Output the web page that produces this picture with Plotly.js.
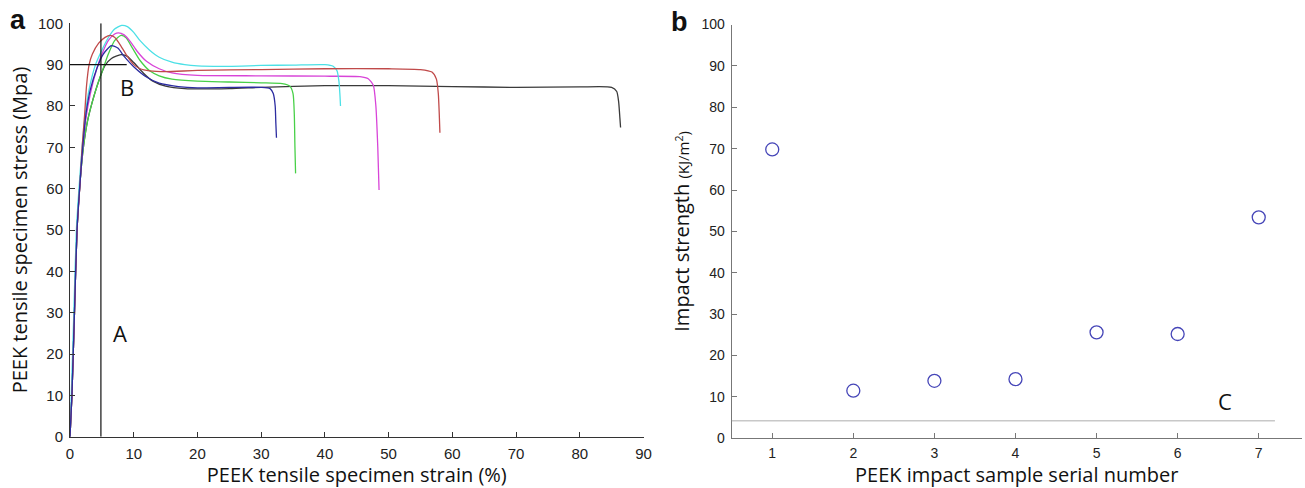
<!DOCTYPE html>
<html>
<head>
<meta charset="utf-8">
<script src="https://cdn.plot.ly/plotly-3.0.1.min.js"></script>
<style>html,body{margin:0;padding:0;background:#fff;}#chart{width:1305px;height:488px;}</style>
</head>
<body>
<div id="chart"></div>
<script>
// ---- Panel a: tensile stress-strain curves (strain %, stress MPa) ----
const blueStrain = [0,0.3,0.7,1.1,1.6,2.0,2.5,3.2,4.2,5.2,6.5,7.5,8.5,10,12,14,17,20,25,30,31.4,31.9,32.2,32.3,32.4];
const blueStress = [0,10,30,50,62,70,78,84,89,92.5,94.6,94,92,89.5,87,85.5,84.7,84.4,84.5,84.5,84.2,83,80,76,72.3];

const blackStrain = [0,0.3,0.7,1.1,1.6,2.1,2.7,3.5,4.5,5.5,6.5,8,9,10,11.5,13,15,18,25,30,40,50,60,70,80,85,85.8,86.1,86.3,86.4];
const blackStress = [0,10,30,50,62,70,76,81,86,89.8,91.5,92.4,92,90.5,88,86,84.8,84.2,84.2,84.5,84.9,84.9,84.7,84.5,84.6,84.5,83.5,81,77,74.8];

const cyanStrain = [0,0.2,0.6,1.0,1.5,1.9,2.4,3.0,4.0,5,6,7,8.1,9,10,11,12.5,14,16,18,20,25,30,35,40,41.3,41.9,42.2,42.35,42.45];
const cyanStress = [0,10,30,50,62,70,78,84,90,93.5,96.5,98.6,99.5,99.2,97.8,95.8,93.5,91.8,90.6,90,89.7,89.6,89.8,89.9,90,89.6,88.5,86,83,80];

const redStrain = [0,0.3,0.7,1.1,1.6,1.9,2.3,2.6,3,3.5,4.5,5.5,6.3,7,8,9,10,11,12.5,15,20,30,40,50,55,56.8,57.5,57.8,57.95,58.05];
const redStress = [0,10,30,50,62,70,78,85,90,92.5,95.2,96.6,97.1,96.6,94.5,92,90,89,88.5,88.3,88.6,88.8,89,89,88.8,88.2,86.5,83,78,73.5];

const magentaStrain = [0,0.3,0.7,1.1,1.6,2.0,2.5,3.2,4.2,5,6,7,7.6,8.5,9.5,10.5,12,14,16,20,30,40,45.5,46.8,47.6,48.0,48.3,48.5];
const magentaStress = [0,10,30,50,62,70,77,83,89,92.5,95.8,97.4,97.7,97.2,95.5,93.3,90.8,89,88,87.4,87.3,87.2,87.1,86.6,85,80,70,59.7];

const greenStrain = [0,0.3,0.7,1.1,1.6,2.1,2.7,3.5,4.5,5.3,6,7,8,8.8,9.8,11,12.5,14,16,20,25,30,33.3,34.5,35.0,35.2,35.3,35.4];
const greenStress = [0,10,30,50,62,70,76,81,86,89.5,92.5,95.8,97.1,96.5,94,91,88.5,87.3,86.5,86,85.8,85.6,85.4,84.8,83,78,70,63.7];

const aTicksX = [0,10,20,30,40,50,60,70,80,90];
const aTicksY = [0,10,20,30,40,50,60,70,80,90,100];

// ---- Panel b: impact strength ----
const sampleNo = [1,2,3,4,5,6,7];
const impactStrength = [69.8,11.5,13.9,14.3,25.6,25.2,53.4];
const bTicksY = [0,10,20,30,40,50,60,70,80,90,100];
const lineC = 4.25;

const tickFont = {family:'Liberation Sans, Arial, sans-serif', size:15, color:'#222'};
const tickFont2 = {family:'Liberation Sans, Arial, sans-serif', size:14, color:'#222'};
const titleFont = {family:'Open Sans, Noto Sans, sans-serif', size:20, color:'#111'};

function curve(x, y, color){
  return {x:x, y:y, type:'scatter', mode:'lines', xaxis:'x', yaxis:'y',
    line:{color:color, width:1.3, shape:'spline', smoothing:0.6}, hoverinfo:'skip', showlegend:false};
}

const traces = [
  curve(blackStrain, blackStress, '#3a3a3a'),
  curve(greenStrain, greenStress, '#48d048'),
  curve(magentaStrain, magentaStress, '#d844d8'),
  curve(cyanStrain, cyanStress, '#4ce0e6'),
  curve(redStrain, redStress, '#c04a4a'),
  curve(blueStrain, blueStress, '#2c2ca0'),
  {x:sampleNo, y:impactStrength, type:'scatter', mode:'markers', xaxis:'x2', yaxis:'y2',
    marker:{symbol:'circle-open', size:13, color:'#4646b8', line:{width:1.3, color:'#4646b8'}}, showlegend:false}
];

const layout = {
  width:1305, height:488,
  margin:{l:0, r:0, t:0, b:0},
  paper_bgcolor:'#fff', plot_bgcolor:'#fff',
  showlegend:false,
  xaxis:{domain:[70/1305, 643.5/1305], range:[0,90], tickvals:aTicksX, ticks:'inside', ticklen:5,
    tickcolor:'#333', showline:true, linecolor:'#333', linewidth:1, showgrid:false, zeroline:false,
    tickfont:tickFont, ticklabelstandoff:3, automargin:false,
    title:{text:'PEEK tensile specimen strain (%)', font:titleFont, standoff:3}},
  yaxis:{domain:[1-436.7/488, 1-23.3/488], range:[0,100], tickvals:aTicksY, ticks:'inside', ticklen:5,
    tickcolor:'#333', showline:true, linecolor:'#333', linewidth:1, showgrid:false, zeroline:false,
    tickfont:tickFont, ticklabelstandoff:3, automargin:false,
    title:{text:'PEEK tensile specimen stress (Mpa)', font:titleFont, standoff:4}},
  xaxis2:{domain:[731.7/1305, 1301.7/1305], range:[0.5,7.53], tickvals:sampleNo, ticks:'inside', ticklen:5,
    tickcolor:'#777', showline:true, linecolor:'#777', linewidth:1, showgrid:false, zeroline:false,
    tickfont:tickFont2, ticklabelstandoff:2, anchor:'y2', automargin:false,
    title:{text:'PEEK impact sample serial number', font:titleFont, standoff:4}},
  yaxis2:{domain:[1-438.3/488, 1-24.5/488], range:[0,100], tickvals:bTicksY, ticks:'inside', ticklen:5,
    tickcolor:'#777', showline:true, linecolor:'#777', linewidth:1, showgrid:false, zeroline:false,
    tickfont:tickFont2, ticklabelstandoff:3, anchor:'x2', automargin:false,
    title:{text:'Impact strength <span style="font-size:15px">(KJ/m<sup>2</sup>)</span>', font:titleFont, standoff:6}},
  shapes:[
    {type:'line', xref:'x', yref:'y', x0:4.85, x1:4.85, y0:0, y1:100, line:{color:'#111', width:1.2}},
    {type:'line', xref:'x', yref:'y', x0:0, x1:8.9, y0:90, y1:90, line:{color:'#111', width:1.2}},
    {type:'line', xref:'x2', yref:'y2', x0:0.5, x1:7.2, y0:lineC, y1:lineC, line:{color:'#c8c8c8', width:1.6}}
  ],
  annotations:[
    {text:'<b>a</b>', xref:'paper', yref:'paper', x:8/1305, y:1-20/488, xanchor:'left', yanchor:'middle', showarrow:false,
      font:{family:'Liberation Sans, Arial, sans-serif', size:27, color:'#111'}},
    {text:'<b>b</b>', xref:'paper', yref:'paper', x:669/1305, y:1-22/488, xanchor:'left', yanchor:'middle', showarrow:false,
      font:{family:'Liberation Sans, Arial, sans-serif', size:27, color:'#111'}},
    {text:'A', xref:'x', yref:'y', x:7.8, y:25, showarrow:false, font:{family:'Open Sans, sans-serif', size:22, color:'#111'}},
    {text:'B', xref:'x', yref:'y', x:9.0, y:84.6, showarrow:false, font:{family:'Open Sans, sans-serif', size:22, color:'#111'}},
    {text:'C', xref:'x2', yref:'y2', x:6.58, y:9, showarrow:false, font:{family:'Open Sans, sans-serif', size:22, color:'#111'}}
  ]
};

Plotly.newPlot('chart', traces, layout, {staticPlot:true, displayModeBar:false});
</script>
</body>
</html>
